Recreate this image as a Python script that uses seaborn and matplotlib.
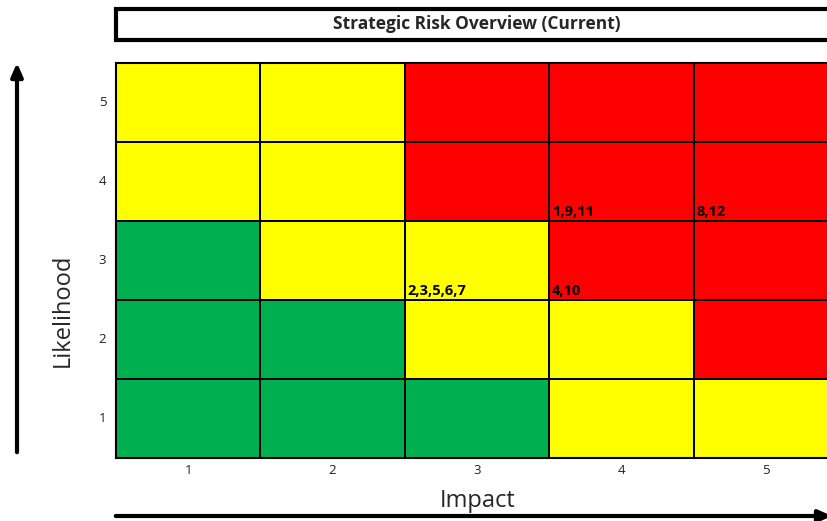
import numpy as np
import matplotlib
matplotlib.use("Agg")
import matplotlib.pyplot as plt
from matplotlib.colors import ListedColormap
from matplotlib.patches import Rectangle
import seaborn as sns

# risk matrix data
impact = [1, 2, 3, 4, 5]
likelihood = [5, 4, 3, 2, 1]
# 0 = low (green), 1 = medium (yellow), 2 = high (red)
rating = np.array([
    [1, 1, 2, 2, 2],
    [1, 1, 2, 2, 2],
    [0, 1, 1, 2, 2],
    [0, 0, 1, 1, 2],
    [0, 0, 0, 1, 1],
])
label_impact = [4, 5, 3, 4]
label_likelihood = [4, 4, 3, 3]
label_text = ["1,9,11", "8,12", "2,3,5,6,7", "4,10"]

colors = ["#00B050", "#FFFF00", "#FF0000"]

sns.set_style("white")
plt.rcParams['font.family'] = ['Open Sans', 'DejaVu Sans']

fig = plt.figure(figsize=(8.27, 5.21), dpi=100)
ax = fig.add_axes([116 / 827, 1 - 458 / 521, 722 / 827, 395 / 521])

sns.heatmap(rating, cmap=ListedColormap(colors), vmin=-0.5, vmax=2.5,
            linewidths=1.2, linecolor="black", cbar=False,
            xticklabels=impact, yticklabels=likelihood, ax=ax)

for imp, lik, txt in zip(label_impact, label_likelihood, label_text):
    col = impact.index(imp)
    row = likelihood.index(lik)
    ax.text(col + 0.02, row + 0.97, txt, ha="left", va="bottom",
            fontsize=10.5, fontweight="bold", color="black")

for sp in ax.spines.values():
    sp.set_visible(True)
    sp.set_color("black")
    sp.set_linewidth(1.5)

ax.tick_params(axis="y", length=0, labelsize=9.5, pad=7, colors="#222222")
ax.tick_params(axis="x", length=0, labelsize=9.5, pad=4, colors="#222222")
ax.set_yticklabels(likelihood, rotation=0)
ax.set_xticklabels(impact, rotation=0)
ax.set_xlabel("")
ax.set_ylabel("")

# axis titles
fig.text(478 / 827, 1 - 501 / 521, "Impact", ha="center", va="center", fontsize=17)
fig.text(63 / 827, 1 - 310 / 521, "Likelihood", ha="center", va="center",
         rotation=90, fontsize=17)

# title box
fig.patches.append(Rectangle((116 / 827, 1 - 40 / 521), 740 / 827, 31 / 521,
                             transform=fig.transFigure, facecolor="white",
                             edgecolor="black", linewidth=3, clip_on=False))
fig.text(477 / 827, 1 - 24 / 521, "Strategic Risk Overview (Current)",
         ha="center", va="center", fontsize=12.5, fontweight="bold")

# arrows
arrow = dict(arrowstyle="-|>,head_length=0.8,head_width=0.35", color="black", lw=3)
ax.annotate("", xy=(17 / 827, 1 - 60 / 521), xytext=(17 / 827, 1 - 455 / 521),
            xycoords="figure fraction", textcoords="figure fraction",
            arrowprops=arrow, annotation_clip=False)
ax.annotate("", xy=(835 / 827, 1 - 516 / 521), xytext=(113 / 827, 1 - 516 / 521),
            xycoords="figure fraction", textcoords="figure fraction",
            arrowprops=arrow, annotation_clip=False)

fig.savefig("out.png", dpi=100)
